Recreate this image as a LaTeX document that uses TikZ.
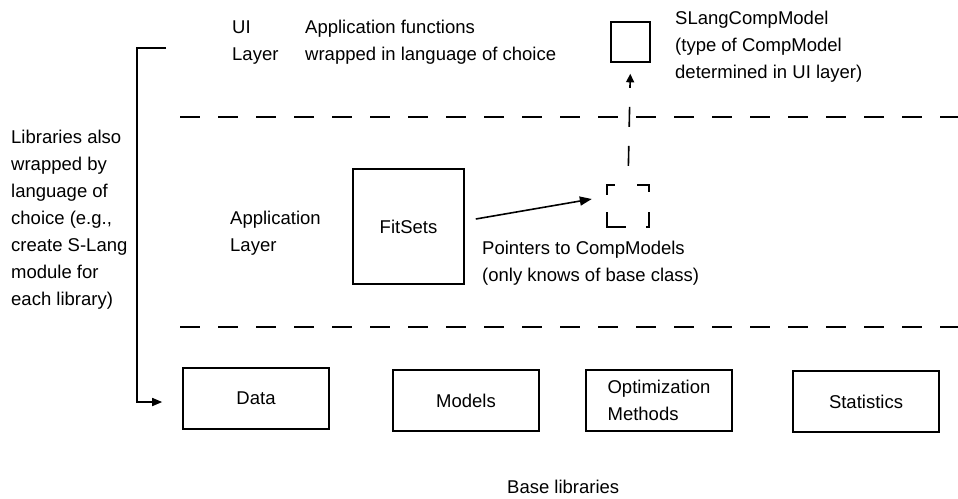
\documentclass[tikz,border=0pt]{standalone}
\usepackage{fontspec}
\setmainfont{Liberation Sans}
\usetikzlibrary{arrows.meta,calc}
\begin{document}
\begin{tikzpicture}[x=1pt,y=-1pt,
  every node/.style={font=\fontsize{18.5}{27}\selectfont},
  lbl/.style={anchor=base west, inner sep=0pt, align=left},
  box/.style={draw, line width=1.6pt, inner sep=0pt},
  libbox/.style={box, minimum width=146pt, minimum height=61pt},
  ln/.style={line width=1.6pt},
  sep/.style={line width=1.6pt, dash pattern=on 20pt off 18pt},
  bigtip/.style={-{Triangle[length=12pt,width=9pt]}},
  uptip/.style={-{Triangle[length=8.5pt,width=8pt]}},
  brtip/.style={-{Triangle[length=10pt,width=8pt]}}
]
\useasboundingbox (0,0) rectangle (958,498);

% separators
\coordinate (s1a) at (180,117);
\coordinate (s1b) at (958,117);
\coordinate (s2a) at (180,327);
\coordinate (s2b) at (958,327);
\draw[sep] (s1a) -- (s1b);
\draw[sep] (s2a) -- (s2b);

% UI layer (base anchor = last line baseline)
\node[lbl] (ui) at (232,60) {UI\\Layer};
\node[lbl] (appfun) at (305,60) {Application functions\\wrapped in language of choice};
\node[box, minimum width=39pt, minimum height=40pt] (slang) at (630.5,42) {};
\node[lbl] (slangtxt) at (675,78) {SLangCompModel\\(type of CompModel\\determined in UI layer)};

% left text
\node[lbl] (libtxt) at (11,305) {Libraries also\\wrapped by\\language of\\choice (e.g.,\\create S-Lang\\module for\\each library)};

% application layer
\node[lbl] (applayer) at (230,251) {Application\\Layer};
\node[box, minimum width=111pt, minimum height=115pt] (fitsets) at (408.5,226.5) {FitSets};
\node[inner sep=0pt, minimum width=42pt, minimum height=42pt] (ptr) at (628,206) {};
\draw[ln] ([yshift=-10pt]ptr.north west) |- ([xshift=8pt]ptr.north west);
\draw[ln] ([xshift=-12pt]ptr.north east) -| ([yshift=-7pt]ptr.north east);
\draw[ln] ([yshift=15pt]ptr.south west) |- ([xshift=19pt]ptr.south west);
\draw[ln] ([yshift=15pt]ptr.south east) -- (ptr.south east) -- ([xshift=-3pt]ptr.south east);
\node[lbl] (ptrtxt) at (482,281) {Pointers to CompModels\\(only knows of base class)};

\draw[ln, bigtip] ($(fitsets.east)+(11,-7.5)$) -- ($(ptr.west)+(-15,-7)$);
\draw[ln, uptip, dash pattern=on 20pt off 19pt, dash phase=20pt, shorten >=11pt] (ptr.north) -- (slang.south);

% base libraries
\node[libbox] (data) at (256,398.5) {Data};
\node[libbox] (models) at (466,400.5) {Models};
\node[libbox, align=left] (opt) at (659,400.5) {Optimization\\Methods};
\node[libbox] (stats) at (866,401.5) {Statistics};
\node[lbl] (baselib) at (507,493) {Base libraries};

% bracket
\coordinate (brtop) at (166,48);
\coordinate (brcorner) at (137,48);
\coordinate (brbot) at (137,402);
\draw[ln, brtip] (brtop) -- (brcorner) -- (brbot) -- ($(data.west)+(-20,3.5)$);
\end{tikzpicture}
\end{document}
